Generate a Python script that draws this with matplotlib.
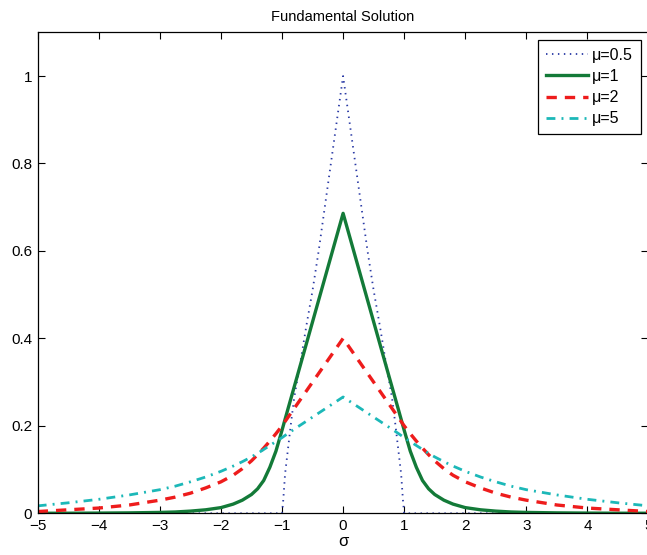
import numpy as np
import matplotlib
matplotlib.use('Agg')
import matplotlib.pyplot as plt

# values
sigma_half = [-1.0, -0.98, -0.95, -0.9, -0.85, -0.8, -0.7, -0.6, -0.5, -0.4, -0.3, -0.2, -0.1,
              0.0, 0.1, 0.2, 0.3, 0.4, 0.5, 0.6, 0.7, 0.8, 0.85, 0.9, 0.95, 0.98, 1.0]
mu05 = [0.0, 0.03, 0.09, 0.15, 0.21, 0.265, 0.345, 0.43, 0.51, 0.60, 0.70, 0.80, 0.90,
        1.0, 0.90, 0.80, 0.70, 0.60, 0.51, 0.43, 0.345, 0.265, 0.21, 0.15, 0.09, 0.03, 0.0]

sigma = [-5.0, -4.5, -4.0, -3.5, -3.0, -2.75, -2.5, -2.25, -2.0, -1.8, -1.65, -1.5, -1.4, -1.3, -1.2,
         -1.1, -1.0, -0.9, -0.75, -0.5, -0.25,
         0.0,
         0.25, 0.5, 0.75, 0.9, 1.0, 1.1, 1.2, 1.3, 1.4, 1.5, 1.65, 1.8, 2.0, 2.25, 2.5, 2.75,
         3.0, 3.5, 4.0, 4.5, 5.0]
mu1 = [0.0001, 0.0002, 0.0005, 0.001, 0.002, 0.003, 0.005, 0.008, 0.013, 0.021, 0.030, 0.043, 0.056, 0.075, 0.105,
       0.142, 0.19, 0.24, 0.314, 0.438, 0.562,
       0.686,
       0.562, 0.438, 0.314, 0.24, 0.19, 0.142, 0.105, 0.075, 0.056, 0.043, 0.030, 0.021, 0.013, 0.008, 0.005, 0.003,
       0.002, 0.001, 0.0005, 0.0002, 0.0001]
mu2 = [0.004, 0.008, 0.012, 0.019, 0.030, 0.037, 0.046, 0.058, 0.072, 0.087, 0.102, 0.120, 0.134, 0.149, 0.165,
       0.182, 0.20, 0.22, 0.25, 0.30, 0.35,
       0.40,
       0.35, 0.30, 0.25, 0.22, 0.20, 0.182, 0.165, 0.149, 0.134, 0.120, 0.102, 0.087, 0.072, 0.058, 0.046, 0.037,
       0.030, 0.019, 0.012, 0.008, 0.004]
mu5 = [0.017, 0.024, 0.032, 0.042, 0.054, 0.062, 0.072, 0.083, 0.096, 0.108, 0.118, 0.129, 0.137, 0.146, 0.155,
       0.164, 0.173, 0.183, 0.197, 0.220, 0.243,
       0.266,
       0.243, 0.220, 0.197, 0.183, 0.173, 0.164, 0.155, 0.146, 0.137, 0.129, 0.118, 0.108, 0.096, 0.083, 0.072, 0.062,
       0.054, 0.042, 0.032, 0.024, 0.017]

labels = ['\u03bc=0.5', '\u03bc=1', '\u03bc=2', '\u03bc=5']
x_ticks = list(range(-5, 6))
y_ticks = [0, 0.2, 0.4, 0.6, 0.8, 1]

plt.rcParams['font.family'] = ['Liberation Sans', 'DejaVu Sans']

fig = plt.figure(figsize=(6.47, 5.55), dpi=100)
ax = fig.add_axes([37.7 / 647, (555 - 513.3) / 555, 610.8 / 647, 481 / 555])

# dotted mu=0.5 curve, zero outside [-1, 1]
xs05 = [-5.0] + sigma_half + [5.0]
ys05 = [0.0] + mu05 + [0.0]
ax.plot(xs05, ys05, color='#2a3aa5', linestyle=(0, (0.8, 2.5)), linewidth=1.3, label=labels[0])
ax.plot(sigma, mu1, color='#137a38', linestyle='-', linewidth=2.4, label=labels[1])
ax.plot(sigma, mu2, color='#ee1c1c', linestyle=(0, (3.1, 2.4)), linewidth=2.4, label=labels[2])
ax.plot(sigma, mu5, color='#1cb8b8', linestyle=(0, (3.2, 2.2, 0.7, 2.2)), linewidth=2.0, label=labels[3])

ax.set_xlim(-5, 5)
ax.set_ylim(0, 1.1)
ax.set_xticks(x_ticks)
ax.set_xticklabels(['\u2212%d' % -t if t < 0 else str(t) for t in x_ticks])
ax.set_yticks(y_ticks)
ax.set_yticklabels(['0', '0.2', '0.4', '0.6', '0.8', '1'])
ax.tick_params(direction='in', top=True, right=True, length=5, width=0.8, labelsize=11, pad=4)
for s in ax.spines.values():
    s.set_linewidth(0.9)

ax.set_title('Fundamental Solution', fontsize=10.5, pad=8)
ax.set_xlabel('\u03c3', fontsize=12, labelpad=1)

leg = ax.legend(loc='upper right', bbox_to_anchor=((641 - 37.7) / 610.8, (513.3 - 40) / 481),
                borderaxespad=0, fancybox=False, edgecolor='black', framealpha=1,
                fontsize=11.5, handlelength=2.65, handletextpad=0.25, labelspacing=0.38, borderpad=0.5)
leg.get_frame().set_linewidth(0.9)

fig.savefig('out.png', dpi=100)
